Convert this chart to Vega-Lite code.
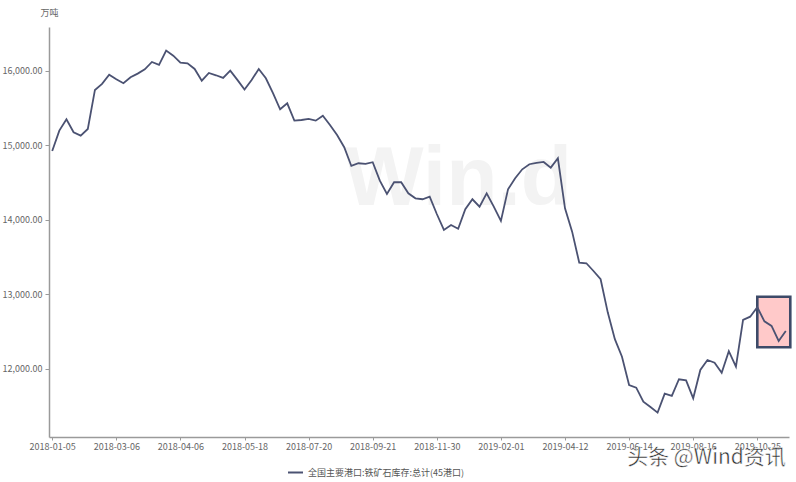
{
  "$schema": "https://vega.github.io/schema/vega-lite/v6.json",
  "width": 740,
  "height": 410,
  "autosize": {"type": "none"},
  "padding": {"left": 49, "top": 27, "right": 7, "bottom": 45},
  "background": "#ffffff",
  "config": {
    "view": {"stroke": null},
    "font": "Noto Sans CJK SC",
    "axis": {
      "domainColor": "#9a9a9a",
      "domainWidth": 1.5,
      "tickColor": "#9a9a9a",
      "tickSize": 4,
      "labelColor": "#666666",
      "labelFontSize": 9,
      "labelFont": "Noto Sans CJK SC",
      "grid": false
    }
  },
  "datasets": {
    "series": [
      {"date": "2018-01-05", "value": 14926},
      {"date": "2018-01-12", "value": 15199},
      {"date": "2018-01-19", "value": 15352},
      {"date": "2018-01-26", "value": 15177},
      {"date": "2018-02-02", "value": 15132},
      {"date": "2018-02-09", "value": 15222},
      {"date": "2018-02-14", "value": 15745},
      {"date": "2018-02-23", "value": 15826},
      {"date": "2018-03-02", "value": 15950},
      {"date": "2018-03-06", "value": 15888},
      {"date": "2018-03-09", "value": 15835},
      {"date": "2018-03-13", "value": 15915},
      {"date": "2018-03-16", "value": 15964},
      {"date": "2018-03-20", "value": 16022},
      {"date": "2018-03-23", "value": 16121},
      {"date": "2018-03-27", "value": 16081},
      {"date": "2018-03-30", "value": 16273},
      {"date": "2018-04-03", "value": 16205},
      {"date": "2018-04-06", "value": 16112},
      {"date": "2018-04-13", "value": 16103},
      {"date": "2018-04-20", "value": 16027},
      {"date": "2018-04-24", "value": 15870},
      {"date": "2018-04-27", "value": 15973},
      {"date": "2018-05-04", "value": 15942},
      {"date": "2018-05-08", "value": 15906},
      {"date": "2018-05-11", "value": 16004},
      {"date": "2018-05-15", "value": 15880},
      {"date": "2018-05-18", "value": 15750},
      {"date": "2018-05-25", "value": 15879},
      {"date": "2018-06-01", "value": 16027},
      {"date": "2018-06-08", "value": 15902},
      {"date": "2018-06-15", "value": 15701},
      {"date": "2018-06-22", "value": 15486},
      {"date": "2018-06-29", "value": 15566},
      {"date": "2018-07-06", "value": 15333},
      {"date": "2018-07-13", "value": 15342},
      {"date": "2018-07-20", "value": 15356},
      {"date": "2018-07-27", "value": 15333},
      {"date": "2018-08-03", "value": 15400},
      {"date": "2018-08-10", "value": 15275},
      {"date": "2018-08-17", "value": 15141},
      {"date": "2018-08-24", "value": 14976},
      {"date": "2018-08-31", "value": 14725},
      {"date": "2018-09-07", "value": 14761},
      {"date": "2018-09-14", "value": 14752},
      {"date": "2018-09-21", "value": 14775},
      {"date": "2018-09-28", "value": 14528},
      {"date": "2018-10-12", "value": 14349},
      {"date": "2018-10-19", "value": 14506},
      {"date": "2018-10-26", "value": 14506},
      {"date": "2018-11-02", "value": 14358},
      {"date": "2018-11-09", "value": 14291},
      {"date": "2018-11-16", "value": 14278},
      {"date": "2018-11-23", "value": 14313},
      {"date": "2018-11-30", "value": 14080},
      {"date": "2018-12-07", "value": 13866},
      {"date": "2018-12-14", "value": 13933},
      {"date": "2018-12-21", "value": 13883},
      {"date": "2018-12-28", "value": 14144},
      {"date": "2019-01-04", "value": 14278},
      {"date": "2019-01-11", "value": 14179},
      {"date": "2019-01-18", "value": 14358},
      {"date": "2019-01-25", "value": 14179},
      {"date": "2019-02-01", "value": 13987},
      {"date": "2019-02-15", "value": 14411},
      {"date": "2019-02-22", "value": 14560},
      {"date": "2019-03-01", "value": 14680},
      {"date": "2019-03-08", "value": 14748},
      {"date": "2019-03-15", "value": 14765},
      {"date": "2019-03-22", "value": 14779},
      {"date": "2019-03-29", "value": 14702},
      {"date": "2019-04-04", "value": 14828},
      {"date": "2019-04-12", "value": 14157},
      {"date": "2019-04-19", "value": 13843},
      {"date": "2019-04-26", "value": 13427},
      {"date": "2019-04-30", "value": 13419},
      {"date": "2019-05-10", "value": 13315},
      {"date": "2019-05-17", "value": 13204},
      {"date": "2019-05-24", "value": 12760},
      {"date": "2019-05-31", "value": 12400},
      {"date": "2019-06-06", "value": 12165},
      {"date": "2019-06-14", "value": 11785},
      {"date": "2019-06-21", "value": 11750},
      {"date": "2019-06-28", "value": 11562},
      {"date": "2019-07-05", "value": 11490},
      {"date": "2019-07-12", "value": 11414},
      {"date": "2019-07-19", "value": 11668},
      {"date": "2019-07-26", "value": 11638},
      {"date": "2019-08-02", "value": 11862},
      {"date": "2019-08-09", "value": 11848},
      {"date": "2019-08-16", "value": 11607},
      {"date": "2019-08-23", "value": 11987},
      {"date": "2019-08-30", "value": 12121},
      {"date": "2019-09-06", "value": 12085},
      {"date": "2019-09-12", "value": 11950},
      {"date": "2019-09-20", "value": 12240},
      {"date": "2019-09-27", "value": 12031},
      {"date": "2019-10-11", "value": 12658},
      {"date": "2019-10-18", "value": 12702},
      {"date": "2019-10-25", "value": 12828},
      {"date": "2019-11-01", "value": 12640},
      {"date": "2019-11-08", "value": 12577},
      {"date": "2019-11-15", "value": 12376},
      {"date": "2019-11-22", "value": 12510}
    ]
  },
  "encoding": {
    "x": {
      "field": "date",
      "type": "ordinal",
      "title": null,
      "scale": {"type": "point", "padding": 0.45},
      "axis": {
        "values": ["2018-01-05", "2018-03-06", "2018-04-06", "2018-05-18", "2018-07-20", "2018-09-21", "2018-11-30", "2019-02-01", "2019-04-12", "2019-06-14", "2019-08-16", "2019-10-25"],
        "labelAngle": 0,
        "tickSize": 3,
        "labelPadding": 2
      }
    },
    "y": {
      "field": "value",
      "type": "quantitative",
      "scale": {"domain": [11087, 16590], "nice": false, "zero": false},
      "axis": {
        "values": [12000, 13000, 14000, 15000, 16000],
        "format": ",.2f",
        "title": "万吨",
        "titleAngle": 0,
        "titleAlign": "center",
        "titleBaseline": "middle",
        "titleX": 0,
        "titleY": -15,
        "titleFontSize": 9,
        "titleFontWeight": "normal",
        "titleColor": "#666666",
        "labelPadding": 3
      }
    }
  },
  "layer": [
    {
      "data": {"values": [{"date": "2018-12-21", "value": 14540, "label": "Win.d"}]},
      "mark": {"type": "text", "font": "Liberation Sans", "fontSize": 84, "fontWeight": "bold", "color": "#f3f3f3", "align": "center", "baseline": "middle"},
      "encoding": {"text": {"field": "label"}}
    },
    {
      "data": {"values": [{"date": "2019-10-25", "date2": "2019-11-22", "value": 12970, "value2": 12291}]},
      "mark": {"type": "rect", "fill": "#ffc9c9", "stroke": "#3d4a68", "strokeWidth": 2.6, "x2Offset": 4.5},
      "encoding": {
        "x2": {"field": "date2"},
        "y2": {"field": "value2"}
      }
    },
    {
      "data": {"name": "series"},
      "mark": {"type": "line", "strokeWidth": 1.8},
      "encoding": {
        "color": {
          "datum": "全国主要港口:铁矿石库存:总计(45港口)",
          "scale": {"range": ["#4b5272"]},
          "legend": {
            "title": null,
            "orient": "none",
            "legendX": 238,
            "legendY": 437,
            "symbolType": "stroke",
            "symbolSize": 225,
            "symbolStrokeWidth": 2,
            "labelFontSize": 9,
            "labelColor": "#555555",
            "labelFont": "Noto Sans CJK SC"
          }
        }
      }
    },
    {
      "data": {"values": [{"date": "2019-11-22", "value": 10805, "label": "头条 @Wind资讯"}]},
      "mark": {"type": "text", "fontSize": 21, "color": "#2b2b2b", "align": "right", "baseline": "middle", "dx": 0, "stroke": "#ffffff", "strokeWidth": 0.5},
      "encoding": {"text": {"field": "label"}}
    }
  ]
}
